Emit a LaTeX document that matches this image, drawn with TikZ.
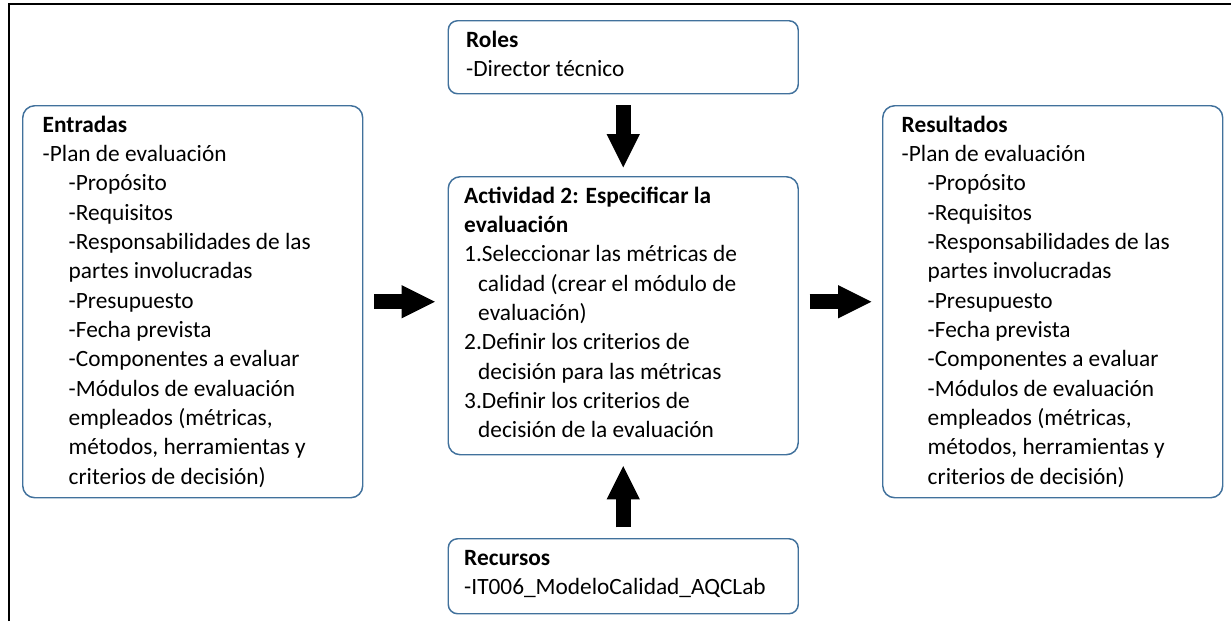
\documentclass[tikz,border=0pt]{standalone}
\usepackage{fontspec}
\setmainfont{Carlito}
\usetikzlibrary{arrows.meta}
\definecolor{boxblue}{RGB}{65,113,156}
\newcommand{\subind}{\hspace*{19.5pt}}
\newcommand{\hangind}{\hspace*{10.5pt}}
\newcommand{\boxtext}[3]{\begin{minipage}[t][#2][t]{#1}\strut #3\end{minipage}}
\tikzset{
  procbox/.style={draw=boxblue, line width=1.1pt, rounded corners=9pt, anchor=north west,
    inner ysep=4.5pt, font=\fontsize{17.5pt}{22pt}\selectfont},
  blockarrow/.style={line width=11pt, -{Triangle[length=25pt,width=25pt,line width=0pt]},
    shorten <=8pt, shorten >=8pt}
}
\begin{document}
\begin{tikzpicture}[x=0.75pt, y=-0.75pt]
\useasboundingbox (0,0) rectangle (1231,621);
% frame
\draw[line width=1.5pt] (8.5,621) -- (8.5,3.5) -- (1231,3.5);
% box Entradas
\node[procbox, inner xsep=15pt] (entradas) at (22,105) {\boxtext{225pt}{285pt}{%
\textbf{Entradas}\\
-Plan de evaluación\\
\subind-Propósito\\
\subind-Requisitos\\
\subind-Responsabilidades de las\\
\subind partes involucradas\\
\subind-Presupuesto\\
\subind-Fecha prevista\\
\subind-Componentes a evaluar\\
\subind-Módulos de evaluación\\
\subind empleados (métricas,\\
\subind métodos, herramientas y\\
\subind criterios de decisión)}};
% box Resultados
\node[procbox, inner xsep=14.25pt] (resultados) at (882,105) {\boxtext{226.5pt}{285pt}{%
\textbf{Resultados}\\
-Plan de evaluación\\
\subind-Propósito\\
\subind-Requisitos\\
\subind-Responsabilidades de las\\
\subind partes involucradas\\
\subind-Presupuesto\\
\subind-Fecha prevista\\
\subind-Componentes a evaluar\\
\subind-Módulos de evaluación\\
\subind empleados (métricas,\\
\subind métodos, herramientas y\\
\subind criterios de decisión)}};
% box Roles
\node[procbox, rounded corners=7pt, inner xsep=13.5pt] (roles) at (447.5,20) {\boxtext{235.5pt}{45.75pt}{%
\textbf{Roles}\\
-Director técnico}};
% box Actividad
\node[procbox, inner xsep=12pt] (act) at (447.5,176) {\boxtext{238.5pt}{199.5pt}{%
\textbf{Actividad 2: Especificar la}\\
\textbf{evaluación}\\
1.Seleccionar las métricas de\\
\hangind calidad (crear el módulo de\\
\hangind evaluación)\\
2.Definir los criterios de\\
\hangind decisión para las métricas\\
3.Definir los criterios de\\
\hangind decisión de la evaluación}};
% box Recursos
\node[procbox, rounded corners=7pt, inner xsep=12pt] (recursos) at (447.5,538) {\boxtext{238.5pt}{47.25pt}{%
\textbf{Recursos}\\
-IT006\_ModeloCalidad\_AQCLab}};
% block arrows
\draw[blockarrow, shorten >=6.5pt] (roles.south) -- (act.north);
\draw[blockarrow] (recursos.north) -- (act.south);
\draw[blockarrow, shorten >=9.5pt] (entradas.east) -- (entradas.east -| act.west);
\draw[blockarrow] (act.east |- resultados.west) -- (resultados.west);
\end{tikzpicture}
\end{document}
